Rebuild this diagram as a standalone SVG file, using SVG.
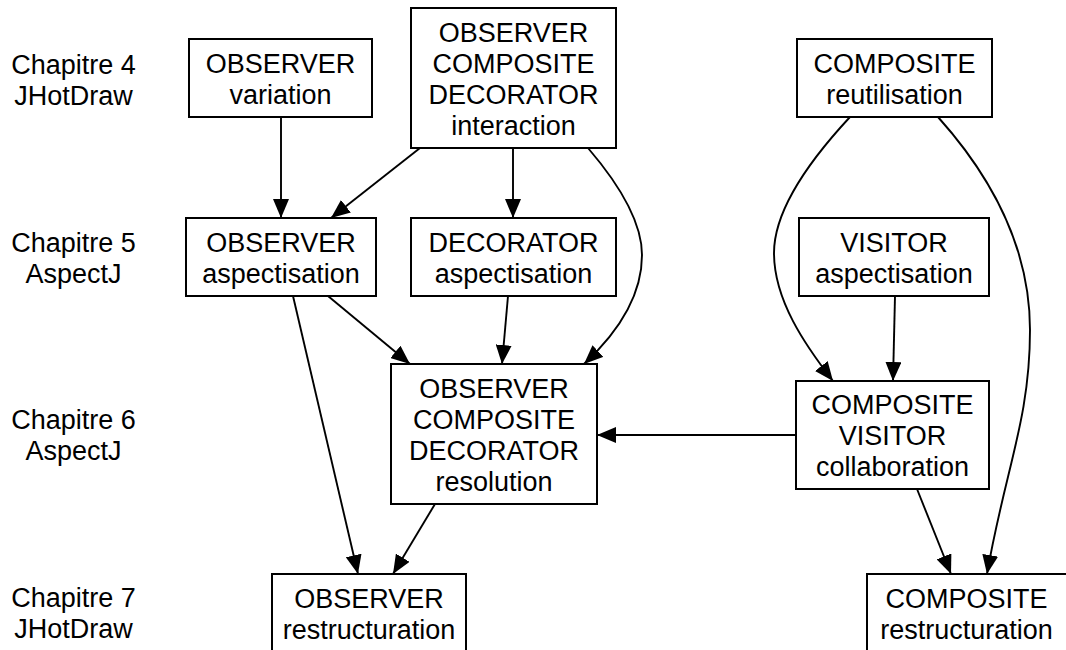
<svg xmlns="http://www.w3.org/2000/svg" width="1066" height="650" viewBox="0 0 1066 650">
<defs>
<style>
.box{fill:#fff;stroke:#000;stroke-width:2}
text{font-family:"Liberation Sans",Arial,sans-serif;font-size:27px;fill:#000;text-anchor:middle}
.edge{fill:none;stroke:#000;stroke-width:1.9;marker-end:url(#ah)}
</style>
<marker id="ah" markerUnits="userSpaceOnUse" viewBox="0 0 19 16" refX="19" refY="8" markerWidth="19" markerHeight="16" orient="auto">
<path d="M0,0 L19,8 L0,16 z" fill="#000"/>
</marker>
</defs>
<rect width="1066" height="650" fill="#fff"/>
<g id="labels">
<text x="73.5" y="74">Chapitre 4</text><text x="73.5" y="105">JHotDraw</text>
<text x="73.5" y="252">Chapitre 5</text><text x="73.5" y="283">AspectJ</text>
<text x="73.5" y="429">Chapitre 6</text><text x="73.5" y="460">AspectJ</text>
<text x="73.5" y="607">Chapitre 7</text><text x="73.5" y="638">JHotDraw</text>
</g>
<g id="connectors">
<path class="edge" d="M281,117 L281,218"/>
<path class="edge" d="M420,148 L331,218"/>
<path class="edge" d="M513,148 L513,218"/>
<path class="edge" d="M588,148 C624,190 642,225 642,255 C642,300 612,338 584,364"/>
<path class="edge" d="M328,296 L410,364"/>
<path class="edge" d="M508,296 L502,364"/>
<path class="edge" d="M293,296 L358,574"/>
<path class="edge" d="M435,504 L393,574"/>
<path class="edge" d="M850,117 C810,160 774,210 774,253 C774,300 805,345 833,381"/>
<path class="edge" d="M938,117 C990,175 1030,245 1030,330 C1030,420 1005,470 987,574"/>
<path class="edge" d="M895,296 L893,381"/>
<path class="edge" d="M796,435 L597,435"/>
<path class="edge" d="M917,489 L951,574"/>
</g>
<g id="n_obs_var"><rect class="box" x="189" y="39" width="183" height="78"/><text x="280.5" y="73">OBSERVER</text><text x="280.5" y="104">variation</text></g>
<g id="n_interaction"><rect class="box" x="411" y="8" width="205" height="140"/><text x="513.5" y="42">OBSERVER</text><text x="513.5" y="73">COMPOSITE</text><text x="513.5" y="104">DECORATOR</text><text x="513.5" y="135">interaction</text></g>
<g id="n_comp_reut"><rect class="box" x="797" y="39" width="195" height="78"/><text x="894.5" y="73">COMPOSITE</text><text x="894.5" y="104">reutilisation</text></g>
<g id="n_obs_asp"><rect class="box" x="186" y="218" width="190" height="78"/><text x="281" y="252">OBSERVER</text><text x="281" y="283">aspectisation</text></g>
<g id="n_dec_asp"><rect class="box" x="411" y="218" width="205" height="78"/><text x="513.5" y="252">DECORATOR</text><text x="513.5" y="283">aspectisation</text></g>
<g id="n_vis_asp"><rect class="box" x="799" y="218" width="190" height="78"/><text x="894" y="252">VISITOR</text><text x="894" y="283">aspectisation</text></g>
<g id="n_resolution"><rect class="box" x="391" y="364" width="206" height="140"/><text x="494" y="398">OBSERVER</text><text x="494" y="429">COMPOSITE</text><text x="494" y="460">DECORATOR</text><text x="494" y="491">resolution</text></g>
<g id="n_collab"><rect class="box" x="796" y="381" width="193" height="108"/><text x="892.5" y="414">COMPOSITE</text><text x="892.5" y="445">VISITOR</text><text x="892.5" y="476">collaboration</text></g>
<g id="n_obs_restr"><rect class="box" x="272" y="574" width="194" height="80"/><text x="369" y="608">OBSERVER</text><text x="369" y="639">restructuration</text></g>
<g id="n_comp_restr"><rect class="box" x="867" y="574" width="202" height="80"/><text x="966.5" y="608">COMPOSITE</text><text x="966.5" y="639">restructuration</text></g>
</svg>
